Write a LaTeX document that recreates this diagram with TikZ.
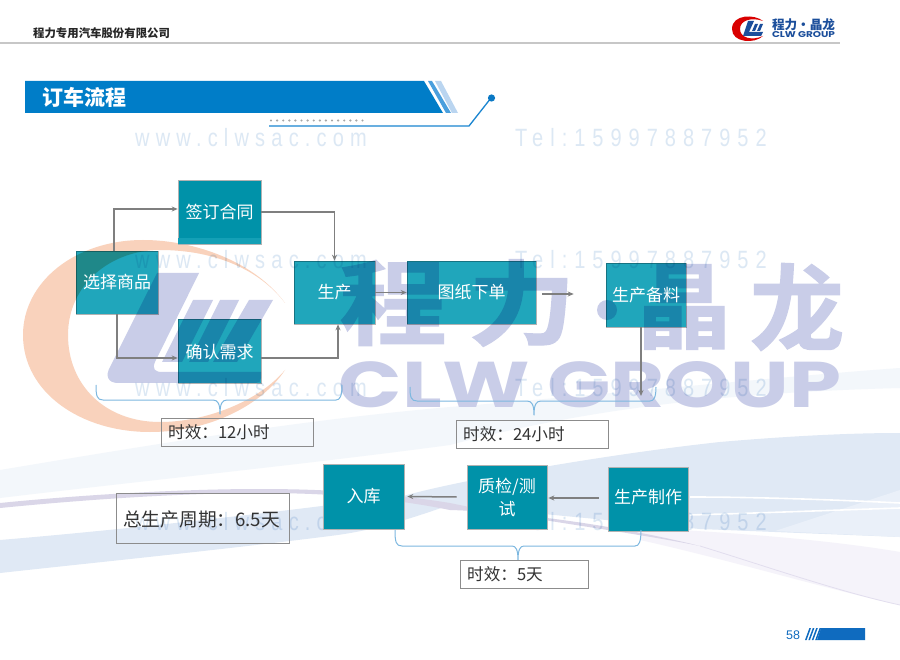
\documentclass[tikz,border=0pt]{standalone}
\usepackage{fontspec}
\usepackage{graphicx}
\usetikzlibrary{arrows.meta,calc}
\setmainfont{Liberation Sans}
\newfontfamily\cjk{Noto Sans CJK SC}
\newfontfamily\cjkheavy[FakeBold=1.4]{Noto Sans CJK SC Bold}
\newfontfamily\wmfont[LetterSpace=31]{Liberation Sans}
\newfontfamily\wmfontb[LetterSpace=35]{Liberation Sans}
\newfontfamily\bigfont{Poppins}
\definecolor{tealA}{HTML}{0092A9}
\definecolor{tealB}{HTML}{20A6BB}
\definecolor{lav}{HTML}{C9CDE8}
\definecolor{orng}{HTML}{F9D2BC}
\definecolor{wmk}{HTML}{DCE8F4}
\definecolor{bannerblue}{HTML}{007DC8}
\definecolor{conngray}{HTML}{7F7F7F}
\definecolor{bracec}{HTML}{7DB8E0}
\definecolor{bandA}{HTML}{F3F7FB}
\definecolor{bandB}{HTML}{E0E9F5}
\definecolor{bandP}{HTML}{DAD6E8}
\definecolor{bandQ}{HTML}{F5F3FA}
\definecolor{bandM}{HTML}{EAF0F9}
\definecolor{bandE}{HTML}{E2DEEE}
\definecolor{logoblue}{HTML}{1B4E9B}
\definecolor{footblue}{HTML}{0F6BBF}
\definecolor{stripeA}{HTML}{4A9FDD}
\definecolor{stripeB}{HTML}{BAD5F0}
\definecolor{lineblue}{HTML}{1A85D0}
\definecolor{dotblue}{HTML}{0A78C4}
\definecolor{tealstrip}{HTML}{14A0B6}
\tikzset{
  boxA/.style={draw=black!30,line width=.6pt,fill=tealA,inner sep=0pt,text=white,align=center,font=\cjk\fontsize{17}{23}\selectfont},
  boxB/.style={draw=black!30,line width=.6pt,fill=tealB,inner sep=0pt},
  boxlabel/.style={text=white,inner sep=0pt,font=\cjk\fontsize{17}{23}\selectfont},
  note/.style={draw=black!45,line width=1pt,fill=none,inner sep=0pt,anchor=center},
  notetext/.style={text=black!80,inner sep=0pt,anchor=west,font=\cjk\fontsize{16.6}{20}\selectfont},
  conn/.style={draw=conngray,line width=1.5pt,-{Stealth[length=6pt,width=5pt]}},
  bracel/.style={draw=bracec,line width=1pt,line join=round},
  wm/.style={text=wmk,inner sep=0pt,anchor=west,font=\wmfont\fontsize{25}{25}\selectfont},
  wmb/.style={text=wmk,inner sep=0pt,anchor=west,font=\wmfontb\fontsize{25}{25}\selectfont},
  bigchar/.style={text=lav,inner sep=0pt,font=\cjkheavy\fontsize{94}{94}\selectfont},
}
\begin{document}
\begin{tikzpicture}[x=1pt,y=-1pt]
\useasboundingbox (0,0) rectangle (900,660);
\fill[white] (0,0) rectangle (900,660);
% background bands
\fill[bandA] (0,470) .. controls (150,445) and (300,420) .. (450,407) .. controls (600,395) and (800,375) .. (900,368) -- (900,388) .. controls (750,392) and (600,405) .. (450,445) .. controls (300,465) and (150,480) .. (0,498) -- cycle;
\fill[bandB] (0,540) .. controls (120,530) and (250,515) .. (330,505) -- (400,497) .. controls (450,482) and (600,455) .. (720,442) .. controls (790,436) and (850,433) .. (900,433) -- (900,537) -- (700,529) -- (450,505) .. controls (420,515) and (380,530) .. (330,536) .. controls (220,550) and (100,562) .. (0,573) -- cycle;
\fill[bandM] (775,531) -- (900,490) -- (900,537) -- cycle;
\fill[bandQ] (640,540) .. controls (730,560) and (830,590) .. (900,605) -- (900,552) .. controls (830,540) and (730,532) .. (640,528) -- cycle;
\fill[bandP] (0,503) .. controls (80,495) and (180,489) .. (260,489) .. controls (340,489) and (400,495) .. (450,503) .. controls (530,520) and (620,530) .. (700,546) .. controls (620,526) and (520,512) .. (450,510) .. controls (390,498) and (330,493) .. (260,493) .. controls (180,493) and (80,500) .. (0,508) -- cycle;
\draw[bandE,line width=.8pt] (700,546) .. controls (765,566) and (840,592) .. (900,605);
\draw[white,line width=1.6pt] (690,497) .. controls (760,497) and (840,500) .. (900,503);
\draw[white,line width=1.6pt] (690,515) .. controls (760,513) and (840,510) .. (900,508);
% big logo
\fill[orng] (285,303) .. controls (255,262) and (195,240) .. (143,240) .. controls (75,240) and (23,282) .. (23,335) .. controls (23,392) and (80,432) .. (150,432) .. controls (210,432) and (262,405) .. (285,370) .. controls (258,402) and (205,422) .. (160,422) .. controls (105,422) and (68,385) .. (68,335) .. controls (68,285) and (110,250) .. (160,250) .. controls (215,250) and (260,270) .. (285,303) -- cycle;
\fill[lav] (157,273) -- (199,273) -- (155,362) .. controls (152,369) and (155,372) .. (162,372) -- (261,372) -- (261,378) .. controls (261,381) and (259,383) .. (256,383) -- (118,383) .. controls (108,383) and (105,376) .. (110,367) -- cycle;
\fill[lav] (193,300) -- (213,300) -- (182,362) -- (162,362) -- cycle;
\fill[lav] (220,300) -- (239,300) -- (208,362) -- (189,362) -- cycle;
\fill[lav] (249,300) -- (273,300) -- (237,362) -- (213,362) -- cycle;
\node[bigchar,anchor=center] (bigA) at (393,303) {\scalebox{1.14}[.98]{程}};
\node[bigchar,anchor=center] (bigB) at (522,303) {\scalebox{1.14}[.98]{力}};
\fill[lav] (607,310) circle (10);
\node[bigchar,anchor=center] (bigC) at (684,307) {\scalebox{1}[1]{晶}};
\node[bigchar,anchor=center] (bigD) at (797,307) {\scalebox{1}[1]{龙}};
\node[text=lav,inner sep=0pt,font=\bigfont\bfseries\fontsize{60}{60}\selectfont] (bigE) at (590,385) {\resizebox{502pt}{46pt}{CLW GROUP}};
% watermarks
\begin{scope}[blend mode=multiply]
\foreach \yy/\nn in {138/a,260/b,388/c,522/d}{
  \node[wm] (www\nn) at (135,\yy) {\scalebox{.8}[1]{www.clwsac.com}};
  \node[wmb] (tel\nn) at (515,\yy) {\scalebox{.8}[1]{Tel:15997887952}};
}
\end{scope}
% header
\node[inner sep=0pt,anchor=west,text=black!85,font=\cjk\bfseries\fontsize{11.4}{12}\selectfont] (company) at (33,33) {程力专用汽车股份有限公司};
\draw[black!22,line width=1.2pt] (0,43) -- (840,43);
\fill[red!85!black] (763,21) .. controls (755,14) and (732,14) .. (732,29) .. controls (732,43) and (755,44) .. (763,36) .. controls (752,41) and (740,38) .. (740,29) .. controls (740,20) and (752,17) .. (763,21) -- cycle;
\fill[logoblue] (748,21) -- (754,21) -- (749,32) -- (763,32) -- (761,36) -- (743,36) -- cycle;
\fill[logoblue] (755,24) -- (758,24) -- (755,31) -- (752,31) -- cycle;
\fill[logoblue] (760,24) -- (763,24) -- (760,31) -- (757,31) -- cycle;
\node[inner sep=0pt,text=logoblue,font=\cjk\bfseries\fontsize{13}{13}\selectfont] (logoA) at (803.5,24.5) {\resizebox{63pt}{!}{程力·晶龙}};
\node[inner sep=0pt,text=logoblue,font=\bigfont\bfseries\fontsize{8}{8}\selectfont] (logoB) at (803.5,34.5) {\resizebox{63pt}{6pt}{CLW GROUP}};
% banner
\fill[bannerblue] (25,81) -- (424,81) -- (443,113) -- (25,113) -- cycle;
\fill[stripeA] (428,81) -- (432,81) -- (451,113) -- (446,113) -- cycle;
\fill[stripeB] (435,81) -- (441,81) -- (458,113) -- (452,113) -- cycle;
\node[inner sep=0pt,anchor=west,text=white,font=\cjk\bfseries\fontsize{21}{22}\selectfont] (title) at (42,97) {订车流程};
\foreach \i in {0,...,15}{\fill[black!35] (271+\i*6.1,120.5) circle (1.2);}
\draw[lineblue,line width=1.3pt] (269,126) -- (469,126) -- (491,98);
\fill[dotblue] (491.5,98) circle (3.6);
% translucent boxes
\begin{scope}[blend mode=multiply]
\node[boxB,minimum width=82pt,minimum height=63pt] (sel) at (117,282.5) {};
\node[boxB,minimum width=83pt,minimum height=64pt] (conf) at (219.5,351) {};
\node[boxB,minimum width=81pt,minimum height=63pt] (prod) at (334.5,292.5) {};
\node[boxB,minimum width=129pt,minimum height=63pt] (paper) at (471.5,292.5) {};
\node[boxB,minimum width=80pt,minimum height=64pt] (prep) at (646,295) {};
\end{scope}
\node[boxlabel] (selT) at (sel.center) {选择商品};
\node[boxlabel] (confT) at ([yshift=-1pt]conf.center) {确认需求};
\node[boxlabel] (prodT) at (prod.center) {生产};
\node[boxlabel] (paperT) at ([xshift=0pt]paper.center) {图纸下单};
\node[boxlabel] (prepT) at (prep.center) {生产备料};
% solid boxes
\node[boxA,minimum width=83pt,minimum height=64pt] (sign) at (219.5,212) {签订合同};
\fill[tealstrip] (178.3,238.5) rectangle (260.7,243.7);
\node[boxA,minimum width=81pt,minimum height=65pt] (store) at (363.5,496.5) {\raisebox{3pt}{入库}};
\node[boxA,minimum width=80pt,minimum height=64pt,align=center] (qc) at (507,497) {\raisebox{-2pt}{质检/测}\\\raisebox{-2pt}{试}};
\node[boxA,minimum width=80pt,minimum height=64pt] (make) at (648,499) {\raisebox{6pt}{生产制作}};
% connectors
\coordinate (prepend) at (641,396);
\draw[conn] ([xshift=-3pt]sel.north) |- ([yshift=3pt]sign.west);
\draw[conn] ([xshift=0pt]sel.south) |- ([yshift=-7pt]conf.west);
\draw[conn] (sign.east) -| (prod.north);
\draw[conn] ([yshift=-7pt]conf.east) -| ([xshift=3.5pt]prod.south);
\draw[conn,line width=1pt] (prod.east) -- (paper.west);
\draw[conn] ([shift={(6pt,-1.5pt)}]paper.east) -- ([shift={(-32pt,1pt)}]prep.west);
\draw[conn] ([xshift=-5pt]prep.south) -- (prepend);
\draw[conn] ([xshift=-9pt,yshift=1pt]make.west) -- ([xshift=1pt,yshift=-1pt]qc.east);
\draw[conn] ([xshift=-10pt]qc.west) -- ([xshift=3pt]store.east);
% braces
\draw[bracel] (96,385) .. controls (96,396) and (97,400) .. (103,400) -- (213,400) .. controls (218,400) and (220,404) .. (220,414) .. controls (220,404) and (222,400) .. (227,400) -- (336,400) .. controls (340,400) and (342,396) .. (342,385);
\draw[bracel] (410,387) .. controls (410,397) and (411,401) .. (417,401) -- (527,401) .. controls (532,401) and (534,405) .. (534,415) .. controls (534,405) and (536,401) .. (541,401) -- (650,401) .. controls (654,401) and (656,397) .. (656,387);
\draw[bracel] (395,530) .. controls (395,542) and (396,546) .. (402,546) -- (512,546) .. controls (516,546) and (518,550) .. (518,560) .. controls (518,550) and (520,546) .. (524,546) -- (635,546) .. controls (639,546) and (641,542) .. (641,530);
% notes
\node[note,minimum width=152pt,minimum height=28pt] (n12) at (237,432) {};
\node[notetext] (n12T) at (168,432) {时效：12小时};
\node[note,minimum width=152pt,minimum height=28pt] (n24) at (532,434) {};
\node[notetext] (n24T) at (463,434) {时效：24小时};
\node[note,minimum width=128pt,minimum height=28pt] (n5) at (524,574) {};
\node[notetext] (n5T) at (467,574) {时效：5天};
\node[note,minimum width=173pt,minimum height=50pt] (total) at (202.5,518) {};
\node[notetext,font=\cjk\fontsize{18.7}{22}\selectfont] (totalT) at (123,519) {总生产周期：6.5天};
% footer
\node[inner sep=0pt,anchor=west,text=footblue,font=\fontsize{12.5}{13}\selectfont] (page) at (786,635) {58};
\foreach \i in {0,1,2,3}{\fill[footblue] (805+\i*3.4,640) -- (806.6+\i*3.4,640) -- (811+\i*3.4,628) -- (809.4+\i*3.4,628) -- cycle;}
\fill[footblue] (817,640) -- (821,628) -- (865,628) -- (865,640) -- cycle;
\end{tikzpicture}
\end{document}
